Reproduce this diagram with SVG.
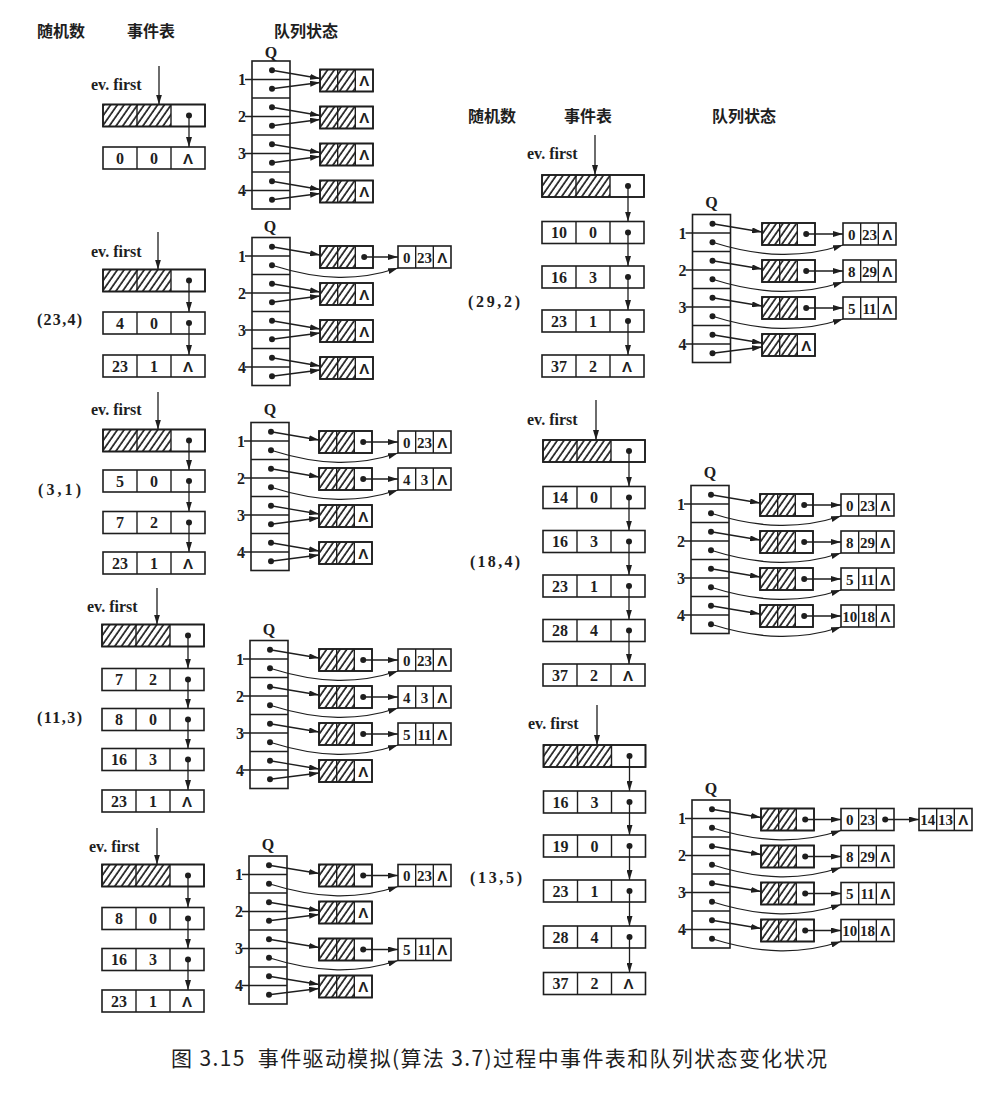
<svg xmlns="http://www.w3.org/2000/svg" width="982" height="1118" viewBox="0 0 982 1118">
<style>
.bx{fill:#fff;stroke:#1e1e1e;stroke-width:1.6}
.fr{fill:none;stroke:#1e1e1e;stroke-width:1.6}
.dv{stroke:#1e1e1e;stroke-width:1.4}
.d{fill:#1e1e1e}
.c{fill:none;stroke:#1e1e1e;stroke-width:1.3;marker-end:url(#ah)}
.t{font-family:"Liberation Serif","DejaVu Serif",serif;font-weight:bold;font-size:16px;fill:#1e1e1e;text-anchor:middle}
.s{font-family:"Liberation Serif","DejaVu Serif",serif;font-weight:bold;font-size:15px;fill:#1e1e1e;text-anchor:middle}
.lam{font-family:"Liberation Sans","DejaVu Sans",sans-serif;font-weight:bold;font-size:15px;fill:#1e1e1e;text-anchor:middle}
.lb{font-family:"Liberation Serif","DejaVu Serif",serif;font-weight:bold;font-size:16px;fill:#1e1e1e}
.rn{font-family:"Liberation Serif","DejaVu Serif",serif;font-weight:bold;font-size:16px;fill:#1e1e1e}
.cn{font-family:"Noto Sans CJK SC",sans-serif;font-weight:bold;font-size:16px;fill:#1e1e1e;text-anchor:middle}
.cap{font-family:"Noto Sans CJK SC",sans-serif;font-size:21px;fill:#1e1e1e;white-space:pre}
</style>
<defs>
<pattern id="hatch" patternUnits="userSpaceOnUse" width="5.5" height="5.5" patternTransform="rotate(35)">
<line x1="1" y1="-1" x2="1" y2="7" stroke="#1e1e1e" stroke-width="1.7"/>
</pattern>
<marker id="ah" viewBox="0 0 10 6" refX="10" refY="3" markerWidth="10" markerHeight="6" markerUnits="userSpaceOnUse" orient="auto">
<path d="M0,0 L10,3 L0,6 z" fill="#1e1e1e"/>
</marker>
<g id="evframe">
<rect class="bx" x="0" y="0" width="102" height="22"/>
<line class="dv" x1="34" y1="0" x2="34" y2="22"/><line class="dv" x1="68" y1="0" x2="68" y2="22"/>
</g>
<g id="evhead">
<rect class="bx" x="0" y="0" width="102" height="22"/>
<rect x="0" y="0" width="68" height="22" fill="url(#hatch)"/>
<rect class="fr" x="0" y="0" width="102" height="22"/>
<line class="dv" x1="34" y1="0" x2="34" y2="22"/><line class="dv" x1="68" y1="0" x2="68" y2="22"/>
<circle class="d" cx="86" cy="11" r="3"/>
</g>
<g id="qframe">
<rect class="bx" x="0" y="0" width="53" height="22"/>
<line class="dv" x1="17.67" y1="0" x2="17.67" y2="22"/><line class="dv" x1="35.33" y1="0" x2="35.33" y2="22"/>
</g>
<g id="qhead">
<rect class="bx" x="0" y="0" width="53" height="22"/>
<rect x="0" y="0" width="35.33" height="22" fill="url(#hatch)"/>
<rect class="fr" x="0" y="0" width="53" height="22"/>
<line class="dv" x1="17.67" y1="0" x2="17.67" y2="22"/><line class="dv" x1="35.33" y1="0" x2="35.33" y2="22"/>
</g>
<g id="qbox">
<rect class="bx" x="0" y="0" width="38" height="148"/>
<line class="dv" x1="-7" y1="18.5" x2="38" y2="18.5"/>
<line class="dv" x1="0" y1="37" x2="38" y2="37"/>
<line class="dv" x1="-7" y1="55.5" x2="38" y2="55.5"/>
<line class="dv" x1="0" y1="74" x2="38" y2="74"/>
<line class="dv" x1="-7" y1="92.5" x2="38" y2="92.5"/>
<line class="dv" x1="0" y1="111" x2="38" y2="111"/>
<line class="dv" x1="-7" y1="129.5" x2="38" y2="129.5"/>
<circle class="d" cx="20" cy="9.25" r="3"/><circle class="d" cx="20" cy="27.75" r="3"/>
<circle class="d" cx="20" cy="46.25" r="3"/><circle class="d" cx="20" cy="64.75" r="3"/>
<circle class="d" cx="20" cy="83.25" r="3"/><circle class="d" cx="20" cy="101.75" r="3"/>
<circle class="d" cx="20" cy="120.25" r="3"/><circle class="d" cx="20" cy="138.75" r="3"/>
</g>
</defs>
<rect x="0" y="0" width="982" height="1118" fill="#fff"/>

<g id="headers">
<text class="cn" x="61" y="37">随机数</text><text class="cn" x="151" y="37">事件表</text><text class="cn" x="306" y="37">队列状态</text>
<text class="cn" x="492" y="122">随机数</text><text class="cn" x="588" y="122">事件表</text><text class="cn" x="744" y="122">队列状态</text>
</g>

<!-- ===== Panel L1 ===== -->
<g id="L1-evfirst"><text class="lb" x="91" y="90">ev. first</text></g>
<g id="L1-e0"><use href="#evhead" x="103" y="104.5"/></g>
<g id="L1-e1"><use href="#evframe" x="103" y="147"/><text class="t" x="120" y="163.5">0</text><text class="t" x="154" y="163.5">0</text><text class="lam" x="188" y="163.5">Λ</text></g>
<g id="L1-Q"><text class="t" x="271" y="58">Q</text><use href="#qbox" x="252" y="61"/>
<text class="t" x="242" y="85">1</text><text class="t" x="242" y="122">2</text><text class="t" x="242" y="159">3</text><text class="t" x="242" y="196">4</text></g>
<g id="L1-q1"><use href="#qhead" x="320" y="69.5"/><text class="lam" x="364.2" y="86">Λ</text></g>
<g id="L1-q2"><use href="#qhead" x="320" y="106.5"/><text class="lam" x="364.2" y="123">Λ</text></g>
<g id="L1-q3"><use href="#qhead" x="320" y="143.5"/><text class="lam" x="364.2" y="160">Λ</text></g>
<g id="L1-q4"><use href="#qhead" x="320" y="180.5"/><text class="lam" x="364.2" y="197">Λ</text></g>

<!-- ===== Panel L2 ===== -->
<g id="L2-evfirst"><text class="lb" x="91" y="257">ev. first</text></g>
<g id="L2-rand"><text class="rn" x="37" y="325" textLength="45">(23,4)</text></g>
<g id="L2-e0"><use href="#evhead" x="103" y="269.5"/></g>
<g id="L2-e1"><use href="#evframe" x="103" y="312"/><text class="t" x="120" y="328.5">4</text><text class="t" x="154" y="328.5">0</text><circle class="d" cx="189" cy="323" r="3"/></g>
<g id="L2-e2"><use href="#evframe" x="103" y="355"/><text class="t" x="120" y="371.5">23</text><text class="t" x="154" y="371.5">1</text><text class="lam" x="188" y="371.5">Λ</text></g>
<g id="L2-Q"><text class="t" x="270" y="232">Q</text><use href="#qbox" x="252" y="237.5"/>
<text class="t" x="242" y="261.5">1</text><text class="t" x="242" y="298.5">2</text><text class="t" x="242" y="335.5">3</text><text class="t" x="242" y="372.5">4</text></g>
<g id="L2-q1"><use href="#qhead" x="320" y="246"/><circle class="d" cx="364.2" cy="257" r="3"/></g>
<g id="L2-q1a"><use href="#qframe" x="398" y="246"/><text class="s" x="406.8" y="262.5">0</text><text class="s" x="424.5" y="262.5">23</text><text class="lam" x="442.2" y="262.5">Λ</text></g>
<g id="L2-q2"><use href="#qhead" x="320" y="283"/><text class="lam" x="364.2" y="299.5">Λ</text></g>
<g id="L2-q3"><use href="#qhead" x="320" y="320"/><text class="lam" x="364.2" y="336.5">Λ</text></g>
<g id="L2-q4"><use href="#qhead" x="320" y="357"/><text class="lam" x="364.2" y="373.5">Λ</text></g>

<!-- ===== Panel L3 ===== -->
<g id="L3-evfirst"><text class="lb" x="91" y="415">ev. first</text></g>
<g id="L3-rand"><text class="rn" x="38" y="495" textLength="43">(3,1)</text></g>
<g id="L3-e0"><use href="#evhead" x="103" y="429.5"/></g>
<g id="L3-e1"><use href="#evframe" x="103" y="470"/><text class="t" x="120" y="486.5">5</text><text class="t" x="154" y="486.5">0</text><circle class="d" cx="189" cy="481" r="3"/></g>
<g id="L3-e2"><use href="#evframe" x="103" y="511.5"/><text class="t" x="120" y="528">7</text><text class="t" x="154" y="528">2</text><circle class="d" cx="189" cy="522.5" r="3"/></g>
<g id="L3-e3"><use href="#evframe" x="103" y="552"/><text class="t" x="120" y="568.5">23</text><text class="t" x="154" y="568.5">1</text><text class="lam" x="188" y="568.5">Λ</text></g>
<g id="L3-Q"><text class="t" x="270" y="415">Q</text><use href="#qbox" x="251" y="422.5"/>
<text class="t" x="241" y="446.5">1</text><text class="t" x="241" y="483.5">2</text><text class="t" x="241" y="520.5">3</text><text class="t" x="241" y="557.5">4</text></g>
<g id="L3-q1"><use href="#qhead" x="319" y="431"/><circle class="d" cx="363.2" cy="442" r="3"/></g>
<g id="L3-q1a"><use href="#qframe" x="398" y="431"/><text class="s" x="406.8" y="447.5">0</text><text class="s" x="424.5" y="447.5">23</text><text class="lam" x="442.2" y="447.5">Λ</text></g>
<g id="L3-q2"><use href="#qhead" x="319" y="468"/><circle class="d" cx="363.2" cy="479" r="3"/></g>
<g id="L3-q2a"><use href="#qframe" x="398" y="468"/><text class="s" x="406.8" y="484.5">4</text><text class="s" x="424.5" y="484.5">3</text><text class="lam" x="442.2" y="484.5">Λ</text></g>
<g id="L3-q3"><use href="#qhead" x="319" y="505"/><text class="lam" x="363.2" y="521.5">Λ</text></g>
<g id="L3-q4"><use href="#qhead" x="319" y="542"/><text class="lam" x="363.2" y="558.5">Λ</text></g>

<!-- ===== Panel L4 ===== -->
<g id="L4-evfirst"><text class="lb" x="87" y="612">ev. first</text></g>
<g id="L4-rand"><text class="rn" x="37" y="723" textLength="45">(11,3)</text></g>
<g id="L4-e0"><use href="#evhead" x="102" y="624.5"/></g>
<g id="L4-e1"><use href="#evframe" x="102" y="668.5"/><text class="t" x="119" y="685">7</text><text class="t" x="153" y="685">2</text><circle class="d" cx="188" cy="679.5" r="3"/></g>
<g id="L4-e2"><use href="#evframe" x="102" y="708.5"/><text class="t" x="119" y="725">8</text><text class="t" x="153" y="725">0</text><circle class="d" cx="188" cy="719.5" r="3"/></g>
<g id="L4-e3"><use href="#evframe" x="102" y="748.5"/><text class="t" x="119" y="765">16</text><text class="t" x="153" y="765">3</text><circle class="d" cx="188" cy="759.5" r="3"/></g>
<g id="L4-e4"><use href="#evframe" x="102" y="790"/><text class="t" x="119" y="806.5">23</text><text class="t" x="153" y="806.5">1</text><text class="lam" x="187" y="806.5">Λ</text></g>
<g id="L4-Q"><text class="t" x="269" y="635">Q</text><use href="#qbox" x="250" y="640.5"/>
<text class="t" x="240" y="664.5">1</text><text class="t" x="240" y="701.5">2</text><text class="t" x="240" y="738.5">3</text><text class="t" x="240" y="775.5">4</text></g>
<g id="L4-q1"><use href="#qhead" x="319" y="649"/><circle class="d" cx="363.2" cy="660" r="3"/></g>
<g id="L4-q1a"><use href="#qframe" x="398" y="649"/><text class="s" x="406.8" y="665.5">0</text><text class="s" x="424.5" y="665.5">23</text><text class="lam" x="442.2" y="665.5">Λ</text></g>
<g id="L4-q2"><use href="#qhead" x="319" y="686"/><circle class="d" cx="363.2" cy="697" r="3"/></g>
<g id="L4-q2a"><use href="#qframe" x="398" y="686"/><text class="s" x="406.8" y="702.5">4</text><text class="s" x="424.5" y="702.5">3</text><text class="lam" x="442.2" y="702.5">Λ</text></g>
<g id="L4-q3"><use href="#qhead" x="319" y="723"/><circle class="d" cx="363.2" cy="734" r="3"/></g>
<g id="L4-q3a"><use href="#qframe" x="398" y="723"/><text class="s" x="406.8" y="739.5">5</text><text class="s" x="424.5" y="739.5">11</text><text class="lam" x="442.2" y="739.5">Λ</text></g>
<g id="L4-q4"><use href="#qhead" x="319" y="760"/><text class="lam" x="363.2" y="776.5">Λ</text></g>

<!-- ===== Panel L5 ===== -->
<g id="L5-evfirst"><text class="lb" x="89" y="852">ev. first</text></g>
<g id="L5-e0"><use href="#evhead" x="102" y="864.5"/></g>
<g id="L5-e1"><use href="#evframe" x="102" y="907.5"/><text class="t" x="119" y="924">8</text><text class="t" x="153" y="924">0</text><circle class="d" cx="188" cy="918.5" r="3"/></g>
<g id="L5-e2"><use href="#evframe" x="102" y="948.5"/><text class="t" x="119" y="965">16</text><text class="t" x="153" y="965">3</text><circle class="d" cx="188" cy="959.5" r="3"/></g>
<g id="L5-e3"><use href="#evframe" x="102" y="990"/><text class="t" x="119" y="1006.5">23</text><text class="t" x="153" y="1006.5">1</text><text class="lam" x="187" y="1006.5">Λ</text></g>
<g id="L5-Q"><text class="t" x="268" y="850">Q</text><use href="#qbox" x="249" y="856"/>
<text class="t" x="239" y="880">1</text><text class="t" x="239" y="917">2</text><text class="t" x="239" y="954">3</text><text class="t" x="239" y="991">4</text></g>
<g id="L5-q1"><use href="#qhead" x="319" y="864.5"/><circle class="d" cx="363.2" cy="875.5" r="3"/></g>
<g id="L5-q1a"><use href="#qframe" x="398" y="864.5"/><text class="s" x="406.8" y="881">0</text><text class="s" x="424.5" y="881">23</text><text class="lam" x="442.2" y="881">Λ</text></g>
<g id="L5-q2"><use href="#qhead" x="319" y="901.5"/><text class="lam" x="363.2" y="918">Λ</text></g>
<g id="L5-q3"><use href="#qhead" x="319" y="938.5"/><circle class="d" cx="363.2" cy="949.5" r="3"/></g>
<g id="L5-q3a"><use href="#qframe" x="398" y="938.5"/><text class="s" x="406.8" y="955">5</text><text class="s" x="424.5" y="955">11</text><text class="lam" x="442.2" y="955">Λ</text></g>
<g id="L5-q4"><use href="#qhead" x="319" y="975.5"/><text class="lam" x="363.2" y="992">Λ</text></g>

<!-- ===== Panel R1 ===== -->
<g id="R1-evfirst"><text class="lb" x="527" y="159">ev. first</text></g>
<g id="R1-rand"><text class="rn" x="468" y="307" textLength="52">(29,2)</text></g>
<g id="R1-e0"><use href="#evhead" x="542" y="175"/></g>
<g id="R1-e1"><use href="#evframe" x="542" y="221.5"/><text class="t" x="559" y="238">10</text><text class="t" x="593" y="238">0</text><circle class="d" cx="628" cy="232.5" r="3"/></g>
<g id="R1-e2"><use href="#evframe" x="542" y="266"/><text class="t" x="559" y="282.5">16</text><text class="t" x="593" y="282.5">3</text><circle class="d" cx="628" cy="277" r="3"/></g>
<g id="R1-e3"><use href="#evframe" x="542" y="310"/><text class="t" x="559" y="326.5">23</text><text class="t" x="593" y="326.5">1</text><circle class="d" cx="628" cy="321" r="3"/></g>
<g id="R1-e4"><use href="#evframe" x="542" y="355"/><text class="t" x="559" y="371.5">37</text><text class="t" x="593" y="371.5">2</text><text class="lam" x="627" y="371.5">Λ</text></g>
<g id="R1-Q"><text class="t" x="711.5" y="208">Q</text><use href="#qbox" x="692.5" y="214.5"/>
<text class="t" x="682.5" y="238.5">1</text><text class="t" x="682.5" y="275.5">2</text><text class="t" x="682.5" y="312.5">3</text><text class="t" x="682.5" y="349.5">4</text></g>
<g id="R1-q1"><use href="#qhead" x="762" y="223"/><circle class="d" cx="806.2" cy="234" r="3"/></g>
<g id="R1-q1a"><use href="#qframe" x="843" y="223"/><text class="s" x="851.8" y="239.5">0</text><text class="s" x="869.5" y="239.5">23</text><text class="lam" x="887.2" y="239.5">Λ</text></g>
<g id="R1-q2"><use href="#qhead" x="762" y="260"/><circle class="d" cx="806.2" cy="271" r="3"/></g>
<g id="R1-q2a"><use href="#qframe" x="843" y="260"/><text class="s" x="851.8" y="276.5">8</text><text class="s" x="869.5" y="276.5">29</text><text class="lam" x="887.2" y="276.5">Λ</text></g>
<g id="R1-q3"><use href="#qhead" x="762" y="297"/><circle class="d" cx="806.2" cy="308" r="3"/></g>
<g id="R1-q3a"><use href="#qframe" x="843" y="297"/><text class="s" x="851.8" y="313.5">5</text><text class="s" x="869.5" y="313.5">11</text><text class="lam" x="887.2" y="313.5">Λ</text></g>
<g id="R1-q4"><use href="#qhead" x="762" y="334"/><text class="lam" x="806.2" y="350.5">Λ</text></g>

<!-- ===== Panel R2 ===== -->
<g id="R2-evfirst"><text class="lb" x="527" y="425">ev. first</text></g>
<g id="R2-rand"><text class="rn" x="470" y="567" textLength="50">(18,4)</text></g>
<g id="R2-e0"><use href="#evhead" x="543" y="440"/></g>
<g id="R2-e1"><use href="#evframe" x="543" y="486.5"/><text class="t" x="560" y="503">14</text><text class="t" x="594" y="503">0</text><circle class="d" cx="629" cy="497.5" r="3"/></g>
<g id="R2-e2"><use href="#evframe" x="543" y="530.5"/><text class="t" x="560" y="547">16</text><text class="t" x="594" y="547">3</text><circle class="d" cx="629" cy="541.5" r="3"/></g>
<g id="R2-e3"><use href="#evframe" x="543" y="575"/><text class="t" x="560" y="591.5">23</text><text class="t" x="594" y="591.5">1</text><circle class="d" cx="629" cy="586" r="3"/></g>
<g id="R2-e4"><use href="#evframe" x="543" y="619.5"/><text class="t" x="560" y="636">28</text><text class="t" x="594" y="636">4</text><circle class="d" cx="629" cy="630.5" r="3"/></g>
<g id="R2-e5"><use href="#evframe" x="543" y="664"/><text class="t" x="560" y="680.5">37</text><text class="t" x="594" y="680.5">2</text><text class="lam" x="628" y="680.5">Λ</text></g>
<g id="R2-Q"><text class="t" x="710" y="478">Q</text><use href="#qbox" x="691" y="485.5"/>
<text class="t" x="681" y="509.5">1</text><text class="t" x="681" y="546.5">2</text><text class="t" x="681" y="583.5">3</text><text class="t" x="681" y="620.5">4</text></g>
<g id="R2-q1"><use href="#qhead" x="760" y="494"/><circle class="d" cx="804.2" cy="505" r="3"/></g>
<g id="R2-q1a"><use href="#qframe" x="841" y="494"/><text class="s" x="849.8" y="510.5">0</text><text class="s" x="867.5" y="510.5">23</text><text class="lam" x="885.2" y="510.5">Λ</text></g>
<g id="R2-q2"><use href="#qhead" x="760" y="531"/><circle class="d" cx="804.2" cy="542" r="3"/></g>
<g id="R2-q2a"><use href="#qframe" x="841" y="531"/><text class="s" x="849.8" y="547.5">8</text><text class="s" x="867.5" y="547.5">29</text><text class="lam" x="885.2" y="547.5">Λ</text></g>
<g id="R2-q3"><use href="#qhead" x="760" y="568"/><circle class="d" cx="804.2" cy="579" r="3"/></g>
<g id="R2-q3a"><use href="#qframe" x="841" y="568"/><text class="s" x="849.8" y="584.5">5</text><text class="s" x="867.5" y="584.5">11</text><text class="lam" x="885.2" y="584.5">Λ</text></g>
<g id="R2-q4"><use href="#qhead" x="760" y="605"/><circle class="d" cx="804.2" cy="616" r="3"/></g>
<g id="R2-q4a"><use href="#qframe" x="841" y="605"/><text class="s" x="849.8" y="621.5">10</text><text class="s" x="867.5" y="621.5">18</text><text class="lam" x="885.2" y="621.5">Λ</text></g>

<!-- ===== Panel R3 ===== -->
<g id="R3-evfirst"><text class="lb" x="528" y="729">ev. first</text></g>
<g id="R3-rand"><text class="rn" x="470" y="883" textLength="52">(13,5)</text></g>
<g id="R3-e0"><use href="#evhead" x="543.5" y="745"/></g>
<g id="R3-e1"><use href="#evframe" x="543.5" y="791"/><text class="t" x="560.5" y="807.5">16</text><text class="t" x="594.5" y="807.5">3</text><circle class="d" cx="629.5" cy="802" r="3"/></g>
<g id="R3-e2"><use href="#evframe" x="543.5" y="835"/><text class="t" x="560.5" y="851.5">19</text><text class="t" x="594.5" y="851.5">0</text><circle class="d" cx="629.5" cy="846" r="3"/></g>
<g id="R3-e3"><use href="#evframe" x="543.5" y="880"/><text class="t" x="560.5" y="896.5">23</text><text class="t" x="594.5" y="896.5">1</text><circle class="d" cx="629.5" cy="891" r="3"/></g>
<g id="R3-e4"><use href="#evframe" x="543.5" y="926"/><text class="t" x="560.5" y="942.5">28</text><text class="t" x="594.5" y="942.5">4</text><circle class="d" cx="629.5" cy="937" r="3"/></g>
<g id="R3-e5"><use href="#evframe" x="543.5" y="972.5"/><text class="t" x="560.5" y="989">37</text><text class="t" x="594.5" y="989">2</text><text class="lam" x="628.5" y="989">Λ</text></g>
<g id="R3-Q"><text class="t" x="711" y="794">Q</text><use href="#qbox" x="692" y="800"/>
<text class="t" x="682" y="824">1</text><text class="t" x="682" y="861">2</text><text class="t" x="682" y="898">3</text><text class="t" x="682" y="935">4</text></g>
<g id="R3-q1"><use href="#qhead" x="761" y="808.5"/><circle class="d" cx="805.2" cy="819.5" r="3"/></g>
<g id="R3-q1a"><use href="#qframe" x="841" y="808.5"/><text class="s" x="849.8" y="825">0</text><text class="s" x="867.5" y="825">23</text><circle class="d" cx="885.2" cy="819.5" r="3"/></g>
<g id="R3-q1b"><use href="#qframe" x="919" y="808.5"/><text class="s" x="927.8" y="825">14</text><text class="s" x="945.5" y="825">13</text><text class="lam" x="963.2" y="825">Λ</text></g>
<g id="R3-q2"><use href="#qhead" x="761" y="845.5"/><circle class="d" cx="805.2" cy="856.5" r="3"/></g>
<g id="R3-q2a"><use href="#qframe" x="841" y="845.5"/><text class="s" x="849.8" y="862">8</text><text class="s" x="867.5" y="862">29</text><text class="lam" x="885.2" y="862">Λ</text></g>
<g id="R3-q3"><use href="#qhead" x="761" y="882.5"/><circle class="d" cx="805.2" cy="893.5" r="3"/></g>
<g id="R3-q3a"><use href="#qframe" x="841" y="882.5"/><text class="s" x="849.8" y="899">5</text><text class="s" x="867.5" y="899">11</text><text class="lam" x="885.2" y="899">Λ</text></g>
<g id="R3-q4"><use href="#qhead" x="761" y="919.5"/><circle class="d" cx="805.2" cy="930.5" r="3"/></g>
<g id="R3-q4a"><use href="#qframe" x="841" y="919.5"/><text class="s" x="849.8" y="936">10</text><text class="s" x="867.5" y="936">18</text><text class="lam" x="885.2" y="936">Λ</text></g>

<!-- ===== Connectors ===== -->
<g id="connectors">
<path class="c" d="M159,66 V104.5"/>
<path class="c" d="M158,232 V269.5"/>
<path class="c" d="M158,392 V429.5"/>
<path class="c" d="M157,588 V624.5"/>
<path class="c" d="M157,828 V864.5"/>
<path class="c" d="M595,135 V175"/>
<path class="c" d="M596,400 V440"/>
<path class="c" d="M597,705 V745"/>
<path class="c" d="M189,115.5 V147"/>
<path class="c" d="M189,280.5 V312"/><path class="c" d="M189,323 V355"/>
<path class="c" d="M189,440.5 V470"/><path class="c" d="M189,481 V511.5"/><path class="c" d="M189,522.5 V552"/>
<path class="c" d="M188,635.5 V668.5"/><path class="c" d="M188,679.5 V708.5"/><path class="c" d="M188,719.5 V748.5"/><path class="c" d="M188,759.5 V790"/>
<path class="c" d="M188,875.5 V907.5"/><path class="c" d="M188,918.5 V948.5"/><path class="c" d="M188,959.5 V990"/>
<path class="c" d="M628,186 V221.5"/><path class="c" d="M628,232.5 V266"/><path class="c" d="M628,277 V310"/><path class="c" d="M628,321 V355"/>
<path class="c" d="M629,451 V486.5"/><path class="c" d="M629,497.5 V530.5"/><path class="c" d="M629,541.5 V575"/><path class="c" d="M629,586 V619.5"/><path class="c" d="M629,630.5 V664"/>
<path class="c" d="M629.5,756 V791"/><path class="c" d="M629.5,802 V835"/><path class="c" d="M629.5,846 V880"/><path class="c" d="M629.5,891 V926"/><path class="c" d="M629.5,937 V972.5"/>
<path class="c" d="M272,70.25 L320,78.5"/><path class="c" d="M272,88.75 L320,82.5"/>
<path class="c" d="M272,107.25 L320,115.5"/><path class="c" d="M272,125.75 L320,119.5"/>
<path class="c" d="M272,144.25 L320,152.5"/><path class="c" d="M272,162.75 L320,156.5"/>
<path class="c" d="M272,181.25 L320,189.5"/><path class="c" d="M272,199.75 L320,193.5"/>
<path class="c" d="M272,246.75 L320,255"/><path class="c" d="M364.2,257 H398"/><path class="c" d="M272,265.25 C322,281 358,281 398,268"/>
<path class="c" d="M272,283.75 L320,292"/><path class="c" d="M272,302.25 L320,296"/>
<path class="c" d="M272,320.75 L320,329"/><path class="c" d="M272,339.25 L320,333"/>
<path class="c" d="M272,357.75 L320,366"/><path class="c" d="M272,376.25 L320,370"/>
<path class="c" d="M271,431.75 L319,440"/><path class="c" d="M363.2,442 H398"/><path class="c" d="M271,450.25 C321,466 358,466 398,453"/>
<path class="c" d="M271,468.75 L319,477"/><path class="c" d="M363.2,479 H398"/><path class="c" d="M271,487.25 C321,503 358,503 398,490"/>
<path class="c" d="M271,505.75 L319,514"/><path class="c" d="M271,524.25 L319,518"/>
<path class="c" d="M271,542.75 L319,551"/><path class="c" d="M271,561.25 L319,555"/>
<path class="c" d="M270,649.75 L319,658"/><path class="c" d="M363.2,660 H398"/><path class="c" d="M270,668.25 C320,684 358,684 398,671"/>
<path class="c" d="M270,686.75 L319,695"/><path class="c" d="M363.2,697 H398"/><path class="c" d="M270,705.25 C320,721 358,721 398,708"/>
<path class="c" d="M270,723.75 L319,732"/><path class="c" d="M363.2,734 H398"/><path class="c" d="M270,742.25 C320,758 358,758 398,745"/>
<path class="c" d="M270,760.75 L319,769"/><path class="c" d="M270,779.25 L319,773"/>
<path class="c" d="M269,865.25 L319,873.5"/><path class="c" d="M363.2,875.5 H398"/><path class="c" d="M269,883.75 C319,899.5 358,899.5 398,886.5"/>
<path class="c" d="M269,902.25 L319,910.5"/><path class="c" d="M269,920.75 L319,914.5"/>
<path class="c" d="M269,939.25 L319,947.5"/><path class="c" d="M363.2,949.5 H398"/><path class="c" d="M269,957.75 C319,973.5 358,973.5 398,960.5"/>
<path class="c" d="M269,976.25 L319,984.5"/><path class="c" d="M269,994.75 L319,988.5"/>
<path class="c" d="M712.5,223.75 L762,232"/><path class="c" d="M806.2,234 H843"/><path class="c" d="M712.5,242.25 C762.5,258 803,258 843,245"/>
<path class="c" d="M712.5,260.75 L762,269"/><path class="c" d="M806.2,271 H843"/><path class="c" d="M712.5,279.25 C762.5,295 803,295 843,282"/>
<path class="c" d="M712.5,297.75 L762,306"/><path class="c" d="M806.2,308 H843"/><path class="c" d="M712.5,316.25 C762.5,332 803,332 843,319"/>
<path class="c" d="M712.5,334.75 L762,343"/><path class="c" d="M712.5,353.25 L762,347"/>
<path class="c" d="M711,494.75 L760,503"/><path class="c" d="M804.2,505 H841"/><path class="c" d="M711,513.25 C761,529 801,529 841,516"/>
<path class="c" d="M711,531.75 L760,540"/><path class="c" d="M804.2,542 H841"/><path class="c" d="M711,550.25 C761,566 801,566 841,553"/>
<path class="c" d="M711,568.75 L760,577"/><path class="c" d="M804.2,579 H841"/><path class="c" d="M711,587.25 C761,603 801,603 841,590"/>
<path class="c" d="M711,605.75 L760,614"/><path class="c" d="M804.2,616 H841"/><path class="c" d="M711,624.25 C761,640 801,640 841,627"/>
<path class="c" d="M712,809.25 L761,817.5"/><path class="c" d="M805.2,819.5 H841"/><path class="c" d="M885.2,819.5 H919"/><path class="c" d="M712,827.75 C762,843.5 801,843.5 841,830.5"/>
<path class="c" d="M712,846.25 L761,854.5"/><path class="c" d="M805.2,856.5 H841"/><path class="c" d="M712,864.75 C762,880.5 801,880.5 841,867.5"/>
<path class="c" d="M712,883.25 L761,891.5"/><path class="c" d="M805.2,893.5 H841"/><path class="c" d="M712,901.75 C762,917.5 801,917.5 841,904.5"/>
<path class="c" d="M712,920.25 L761,928.5"/><path class="c" d="M805.2,930.5 H841"/><path class="c" d="M712,938.75 C762,954.5 801,954.5 841,941.5"/>
</g>

<g id="caption"><text class="cap" x="171" y="1066" textLength="656" lengthAdjust="spacing" xml:space="preserve">图 3.15  事件驱动模拟(算法 3.7)过程中事件表和队列状态变化状况</text></g>
</svg>
